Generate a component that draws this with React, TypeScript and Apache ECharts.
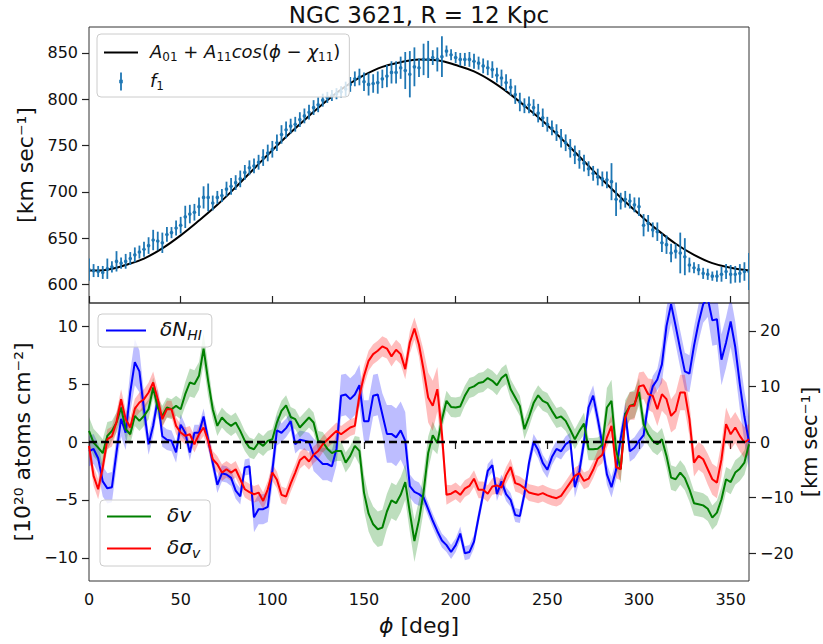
import { useEffect, useRef } from 'react';
import * as echarts from 'echarts';

const FONT = 'DejaVu Sans';
const STEP = 2.5; // azimuthal sampling of the measurements, degrees

// ---- top panel: first harmonic fit (read every 10 deg) ----
const FIT_PHI = [0, 10, 20, 30, 40, 50, 60, 70, 80, 90, 100, 110, 120, 130, 140, 150, 160, 170, 180,
  190, 200, 210, 220, 230, 240, 250, 260, 270, 280, 290, 300, 310, 320, 330, 340, 350, 360];
const FIT_VALUES = [615, 616, 621, 628, 639, 653, 669, 686, 705, 725, 745, 764, 782, 799, 814, 826, 835, 840, 843,
  842, 837, 830, 819, 805, 789, 772, 753, 733, 713, 694, 676, 659, 644, 632, 623, 618, 615];

// ---- top panel: f1 measurements (every 2.5 deg) ----
const F1_VALUES = [
  616, 615, 614, 613, 617, 619, 625, 623, 625, 628,
  632, 635, 638, 642, 648, 647, 645, 654, 656, 661,
  664, 673, 676, 678, 684, 694, 694, 688, 694, 696,
  703, 706, 710, 714, 721, 726, 728, 732, 737, 742,
  746, 753, 762, 767, 771, 773, 778, 782, 786, 791,
  794, 799, 802, 804, 806, 808, 811, 816, 822, 824,
  819, 816, 817, 818, 822, 825, 829, 829, 834, 831,
  827, 835, 834, 843, 843, 845, 843, 846, 852, 848,
  845, 843, 843, 843, 841, 839, 836, 834, 832, 826,
  823, 818, 813, 805, 797, 793, 794, 791, 785, 780,
  773, 769, 764, 758, 753, 747, 740, 735, 731, 725,
  720, 716, 714, 713, 711, 692, 690, 692, 690, 686,
  684, 664, 666, 659, 657, 645, 643, 634, 636, 634,
  630, 621, 618, 616, 612, 611, 609, 609, 611, 614,
  611, 611, 612, 614, 614,
];
const F1_ERRORS = [
  12, 7, 6, 7, 11, 6, 11, 6, 8, 7,
  8, 7, 8, 9, 11, 10, 11, 8, 6, 8,
  9, 12, 10, 9, 10, 12, 15, 8, 7, 7,
  8, 9, 8, 9, 8, 8, 8, 8, 9, 9,
  9, 9, 10, 9, 8, 8, 8, 8, 8, 8,
  8, 7, 6, 6, 6, 6, 8, 8, 8, 9,
  10, 12, 10, 12, 10, 12, 12, 12, 12, 20,
  25, 21, 10, 17, 20, 8, 13, 22, 6, 6,
  6, 7, 7, 8, 8, 7, 8, 8, 9, 8,
  9, 9, 9, 10, 10, 8, 9, 9, 10, 10,
  8, 8, 9, 10, 9, 10, 10, 10, 9, 8,
  8, 9, 8, 9, 20, 18, 9, 9, 8, 8,
  10, 12, 9, 8, 10, 10, 10, 10, 8, 22,
  20, 8, 6, 6, 6, 6, 5, 6, 8, 8,
  10, 9, 10, 10, 20,
];

// ---- bottom panel: delta N_HI (left axis, 10^20 atoms cm^-2) ----
const NHI_VALUES = [
  -0.8, -0.6, -1.4, -3.4, -4.0, -3.9, -0.9, 2.0, 0.8, 4.3,
  6.9, 6.1, 2.8, -0.2, 1.4, 3.7, 0.5, 0.2, 0.1, -0.9,
  1.5, 0.8, -0.9, 0.8, 0.8, 2.2, 0.2, -1.8, -3.7, -2.7,
  -2.8, -3.1, -4.2, -4.7, -2.2, -2.1, -6.5, -5.8, -5.8, -5.6,
  -2.5, 1.0, 0.8, 1.2, 1.8, -0.2, 0.2, 0.1, 0.0, -1.1,
  -1.5, -1.9, -1.9, -2.1, -0.6, 4.0, 4.1, 3.7, 4.1, 4.9,
  1.8, 1.8, 4.0, 4.1, 2.4, 0.7, 0.7, 0.4, 1.0, 0.1,
  -3.8, -4.3, -4.5, -4.8, -5.8, -6.8, -7.7, -8.5, -8.9, -9.5,
  -8.9, -7.9, -9.6, -9.5, -8.6, -6.5, -4.5, -2.5, -2.0, -4.5,
  -3.4, -4.5, -5.0, -6.3, -6.4, -4.5, -1.8, 0.0, -0.7, -1.8,
  -2.4, -1.3, -0.6, -0.8, -0.2, 0.1, -3.9, -2.5, 0.0, 3.0,
  4.0, 2.0, -0.2, -2.8, -3.9, -2.4, 0.3, 2.5, -0.8, -0.5,
  0.1, 0.6, 3.3, 4.8, 5.4, 6.7, 10.0, 11.9, 10.0, 8.0,
  6.1, 5.9, 8.3, 10.3, 11.9, 12.4, 10.5, 10.6, 7.1, 8.6,
  10.4, 8.2, 5.0, 2.2, 0.0,
];
const NHI_ERRORS = [
  1.3, 1.3, 1.3, 1.3, 1.3, 1.3, 1.3, 1.5, 1.5, 1.8,
  2.0, 1.8, 1.4, 0.9, 0.9, 0.9, 0.9, 0.9, 0.9, 0.9,
  0.9, 0.7, 0.7, 0.7, 0.7, 0.7, 0.7, 0.7, 0.7, 0.7,
  0.7, 0.7, 0.7, 0.7, 0.7, 0.7, 1.3, 1.3, 1.3, 1.3,
  1.3, 1.3, 0.8, 0.8, 0.8, 0.8, 0.8, 0.8, 0.8, 1.4,
  1.4, 1.4, 1.4, 1.4, 1.4, 1.8, 1.8, 1.8, 1.8, 1.8,
  1.8, 1.8, 1.8, 1.8, 1.8, 2.5, 2.5, 2.5, 2.5, 2.5,
  1.0, 1.0, 1.0, 0.6, 0.6, 0.6, 0.6, 0.6, 0.6, 0.6,
  0.6, 0.6, 0.6, 0.6, 0.6, 0.6, 0.6, 0.6, 0.6, 0.6,
  0.6, 0.6, 0.6, 0.6, 0.6, 0.6, 0.7, 0.7, 0.7, 0.7,
  0.7, 0.7, 0.7, 0.7, 0.7, 0.7, 0.9, 0.9, 0.9, 0.9,
  0.9, 0.9, 0.9, 0.9, 0.9, 0.9, 0.9, 0.9, 0.9, 0.9,
  0.9, 0.9, 0.9, 0.9, 0.9, 1.6, 1.6, 1.6, 1.6, 1.6,
  1.6, 1.6, 1.6, 1.6, 1.6, 1.6, 2.2, 2.2, 2.2, 2.2,
  2.2, 2.2, 2.2, 2.2, 2.2,
];

// ---- bottom panel: delta v (right axis, km/s) ----
const DV_VALUES = [
  2.0, -0.1, -1.0, -2.0, 1.1, 2.0, 3.5, 6.2, 2.3, 1.4,
  4.7, 3.8, 4.7, 5.9, 9.8, 6.2, 4.7, 6.2, 5.9, 6.5,
  5.9, 8.6, 10.7, 10.4, 11.9, 16.8, 11.0, 5.9, 2.9, 4.4,
  3.5, 2.9, 3.5, 2.0, 0.2, -1.0, -1.3, -0.1, -0.7, 0.2,
  0.5, 3.5, 5.6, 6.6, 4.5, 4.1, 2.6, 3.5, 4.4, 3.5,
  0.2, 0.0, -1.2, -2.0, -1.6, -1.6, -3.7, -2.5, -0.7, -1.6,
  -9.1, -12.9, -14.8, -15.7, -15.4, -12.5, -10.5, -11.0, -9.5, -7.2,
  -12.7, -17.8, -14.0, -9.0, -2.0, 1.2, -0.2, 4.0, 7.4, 6.3,
  6.2, 6.4, 8.3, 9.7, 10.0, 10.6, 10.8, 11.5, 11.0, 10.2,
  11.5, 12.2, 9.5, 8.0, 6.5, 2.3, 4.5, 7.0, 8.4, 7.4,
  7.0, 5.6, 4.3, 4.6, 3.8, 2.2, 0.5, 2.0, 3.3, -1.3,
  -1.3, -1.2, -0.5, 6.2, 7.4, -1.5, -4.9, 5.0, 6.5, 6.8,
  9.0, 3.2, 1.4, 0.2, -0.4, 0.5, -2.5, -6.4, -6.7, -5.5,
  -6.5, -8.5, -11.0, -11.2, -11.4, -12.0, -13.6, -12.7, -10.3, -6.7,
  -7.2, -5.5, -4.8, -3.7, -0.4,
];
const DV_ERRORS = [
  2.5, 2.5, 2.5, 2.5, 2.5, 1.8, 1.8, 1.8, 1.8, 1.8,
  1.8, 1.8, 1.8, 1.8, 1.8, 1.8, 1.8, 1.8, 1.8, 1.8,
  1.8, 2.2, 2.5, 2.5, 2.5, 2.8, 2.8, 1.8, 1.8, 1.8,
  1.8, 1.8, 1.8, 1.8, 1.8, 1.8, 1.8, 1.8, 1.8, 1.8,
  1.8, 1.8, 1.8, 1.8, 1.8, 1.8, 1.8, 1.8, 1.8, 1.8,
  1.8, 1.8, 1.8, 1.8, 1.8, 1.8, 1.8, 1.8, 1.8, 2.5,
  3.2, 3.2, 3.2, 3.2, 3.2, 3.2, 3.2, 3.2, 3.2, 3.2,
  3.5, 3.8, 3.5, 3.5, 3.0, 2.5, 2.0, 1.8, 1.8, 1.8,
  1.8, 1.8, 1.8, 1.8, 1.8, 1.8, 1.8, 1.8, 1.8, 1.8,
  1.8, 1.8, 1.8, 1.8, 1.8, 1.8, 1.8, 1.8, 1.8, 1.8,
  1.8, 1.8, 1.8, 1.8, 1.8, 1.8, 1.8, 1.8, 2.0, 2.0,
  2.0, 2.0, 2.0, 3.5, 3.8, 3.0, 2.5, 2.5, 2.5, 2.5,
  2.5, 2.2, 2.0, 2.0, 2.0, 2.0, 2.2, 2.2, 2.2, 2.2,
  2.2, 2.2, 2.2, 2.2, 2.2, 2.2, 2.2, 2.2, 2.2, 2.2,
  2.2, 2.2, 2.2, 2.2, 2.5,
];

// ---- bottom panel: delta sigma_v (right axis, km/s) ----
const DSIG_VALUES = [
  -0.7, -6.1, -8.5, -4.6, 0.5, 1.0, 3.6, 7.7, 4.1, 2.6,
  6.0, 7.1, 7.7, 8.9, 10.7, 7.7, 4.1, 5.9, 5.9, 2.9,
  1.7, 1.1, 1.4, -0.4, 1.4, 2.6, 0.2, -3.1, -4.0, -5.5,
  -4.9, -5.5, -4.9, -6.7, -8.5, -9.0, -9.4, -9.1, -10.6, -8.5,
  -5.5, -6.8, -9.5, -9.8, -7.5, -5.5, -3.3, -2.6, -3.5, -2.3,
  -1.6, -0.4, 0.4, 1.2, 2.0, 1.4, 2.0, 2.6, 2.9, 8.3,
  11.9, 14.6, 15.8, 16.4, 17.2, 16.8, 15.4, 16.6, 15.8, 13.1,
  17.9, 20.4, 17.5, 13.0, 8.0, 6.5, 9.5, 1.5, -9.5, -9.3,
  -8.8, -9.5, -8.4, -7.9, -6.6, -8.6, -8.6, -9.3, -8.0, -7.8,
  -8.2, -6.0, -4.5, -7.4, -7.7, -8.3, -9.1, -9.3, -9.5, -9.2,
  -9.6, -9.9, -10.1, -9.7, -8.5, -7.3, -6.1, -5.6, -7.0, -6.6,
  -5.0, -3.0, -2.3, 0.8, 2.9, -4.5, -4.9, 4.4, 6.5, 6.5,
  10.0, 10.2, 8.6, 8.3, 5.9, 8.6, 7.7, 4.7, 5.6, 8.9,
  8.9, 4.1, -3.7, -2.5, -3.1, -4.9, -6.7, -7.3, -3.1, 3.2,
  1.4, 2.6, 1.1, -0.1, 0.5,
];
const DSIG_ERRORS = [
  1.8, 1.8, 1.8, 1.8, 1.8, 1.8, 1.8, 1.8, 1.8, 1.8,
  1.8, 1.8, 1.8, 1.8, 2.0, 1.8, 1.5, 1.5, 1.5, 1.5,
  1.5, 1.5, 1.5, 1.5, 1.5, 1.5, 1.5, 1.5, 1.5, 1.5,
  1.5, 1.5, 1.5, 1.5, 1.5, 1.5, 1.5, 1.5, 1.5, 1.5,
  1.5, 1.5, 1.5, 1.5, 1.5, 1.5, 1.5, 1.5, 1.5, 1.5,
  1.5, 1.5, 1.5, 1.5, 1.5, 1.5, 1.5, 1.5, 1.5, 1.8,
  1.8, 1.8, 1.8, 1.8, 1.8, 1.8, 1.8, 1.8, 1.8, 1.8,
  2.0, 2.0, 2.2, 3.5, 4.5, 4.5, 4.0, 3.0, 1.8, 1.5,
  1.5, 1.5, 1.5, 1.5, 1.5, 1.5, 1.5, 1.5, 1.5, 1.5,
  1.5, 1.5, 1.5, 1.5, 1.5, 1.5, 1.5, 1.5, 1.5, 1.5,
  1.5, 1.5, 1.5, 1.5, 1.5, 1.5, 1.5, 1.5, 1.5, 1.5,
  1.5, 1.5, 1.5, 1.8, 2.0, 2.0, 2.0, 2.5, 2.5, 2.5,
  2.5, 2.5, 2.8, 3.0, 3.0, 3.0, 3.0, 3.0, 3.2, 3.2,
  3.2, 3.0, 2.5, 2.5, 2.5, 2.8, 2.8, 2.8, 3.0, 3.0,
  2.8, 2.8, 2.8, 2.8, 2.8,
];

// ---- tick values ----
const X_TICKS = [0, 50, 100, 150, 200, 250, 300, 350];
const TOP_Y_TICKS = [600, 650, 700, 750, 800, 850];
const LEFT_Y_TICKS = [-10, -5, 0, 5, 10];
const RIGHT_Y_TICKS = [-20, -10, 0, 10, 20];

const C_F1 = '#1f77b4';
const C_NHI = '#0000ff';
const C_DV = '#008000';
const C_DSIG = '#ff0000';

const PHI = F1_VALUES.map((_, i) => i * STEP);

const LEGEND_LABELS: Record<string, string> = {
  fit: '{m|A}{s|01}{n| + }{m|A}{s|11}{m|cos}{n|(}{m|ϕ}{n| − }{m|χ}{s|11}{n|)}',
  f1: '{m|f}{s|1}',
  NHI: '{m|δN}{si|HI}',
  dv: '{m|δv}',
  dsig: '{m|δσ}{si|v}',
};

const ERRBAR_ICON = 'path://M0,0M34,18M16.1,0H17.9V18H16.1ZM15.2,7.2H18.8V10.8H15.2Z';
const LINE_ICON_34 = 'path://M0,0M34,18M0,8H34V10H0Z';
const LINE_ICON_40 = 'path://M0,0M40,14M0,6H40V8H0Z';
const LINE_ICON_44 = 'path://M0,0M44,14M0,6H44V8H0Z';

const minus = (v: number) => (v < 0 ? '\u2212' + Math.abs(v) : String(v));

function richFor(size: number) {
  const sub = Math.round(size * 0.68);
  return {
    m: { fontFamily: FONT, fontStyle: 'italic', fontSize: size, color: '#111', verticalAlign: 'bottom', padding: [0, 0, 3, 0] },
    n: { fontFamily: FONT, fontSize: size, color: '#111', verticalAlign: 'bottom', padding: [0, 0, 3, 0] },
    s: { fontFamily: FONT, fontSize: sub, color: '#111', verticalAlign: 'bottom' },
    si: { fontFamily: FONT, fontStyle: 'italic', fontSize: sub, color: '#111', verticalAlign: 'bottom' },
  };
}

function legendBase() {
  return {
    orient: 'vertical',
    selectedMode: false,
    backgroundColor: 'rgba(255,255,255,0.8)',
    borderColor: '#cccccc',
    borderWidth: 1,
    borderRadius: 4,
    formatter: (n: string) => LEGEND_LABELS[n],
    z: 10,
  };
}

function band(name: string, vals: number[], errs: number[], yAxisIndex: number, fill: string) {
  return {
    type: 'custom', name, xAxisIndex: 1, yAxisIndex, clip: true, silent: true, z: 1,
    data: vals.map((v, i) => [PHI[i], v - errs[i], v + errs[i]]),
    encode: { x: 0, y: [1, 2] },
    renderItem: (params: any, api: any) => {
      if (params.dataIndexInside !== 0) return null;
      const n = params.dataInsideLength;
      const pts: number[][] = [];
      for (let j = 0; j < n; j++) pts.push(api.coord([api.value(0, j), api.value(1, j)]));
      for (let j = n - 1; j >= 0; j--) pts.push(api.coord([api.value(0, j), api.value(2, j)]));
      return { type: 'polygon', shape: { points: pts }, style: { fill, stroke: 'none' } };
    },
  };
}

const tickStyle = { color: '#222', width: 1.2 };
const labelStyle = { fontFamily: FONT, fontSize: 16, color: '#111' };
const nameStyle = { fontFamily: FONT, fontSize: 22, color: '#111' };

function buildOption() {
  return {
    animation: false,
    backgroundColor: '#ffffff',
    textStyle: { fontFamily: FONT },
    title: {
      text: 'NGC 3621, R = 12 Kpc', left: 419, top: 3, textAlign: 'center', padding: 0,
      textStyle: { fontFamily: FONT, fontSize: 23, fontWeight: 'normal', color: '#111' },
    },
    graphic: [
      {
        type: 'text', x: 810, y: 442, rotation: Math.PI / 2, silent: true,
        style: { text: '[km sec⁻¹]', fontFamily: FONT, fontSize: 21, fill: '#111', textAlign: 'center', textVerticalAlign: 'middle' },
      },
    ],
    grid: [
      { left: 89, width: 660, top: 27, height: 276, show: true, borderColor: '#333', borderWidth: 1, backgroundColor: 'transparent', outerBoundsMode: 'none' },
      { left: 89, width: 660, top: 303, height: 278, show: true, borderColor: '#333', borderWidth: 1, backgroundColor: 'transparent', outerBoundsMode: 'none' },
    ],
    legend: [
      {
        ...legendBase(), left: 97, top: 34, itemWidth: 34, itemHeight: 18, itemGap: 8,
        padding: [8, 9, 5, 7],
        data: [{ name: 'fit', icon: LINE_ICON_34 }, { name: 'f1', icon: ERRBAR_ICON }],
        textStyle: { fontFamily: FONT, fontSize: 18, color: '#111', padding: [0, 0, 0, 7], rich: richFor(18) },
      },
      {
        ...legendBase(), left: 98, top: 314, itemWidth: 40, itemHeight: 14, itemGap: 6,
        padding: [5, 10, 5, 8],
        data: [{ name: 'NHI', icon: LINE_ICON_40 }],
        textStyle: { fontFamily: FONT, fontSize: 20, color: '#111', padding: [0, 0, 0, 9], rich: richFor(20) },
      },
      {
        ...legendBase(), left: 100, top: 500, itemWidth: 44, itemHeight: 14, itemGap: 12,
        padding: [5, 10, 6, 7],
        data: [{ name: 'dv', icon: LINE_ICON_44 }, { name: 'dsig', icon: LINE_ICON_44 }],
        textStyle: { fontFamily: FONT, fontSize: 20, color: '#111', padding: [0, 0, 0, 11], rich: richFor(20) },
      },
    ],
    xAxis: [
      {
        type: 'value', gridIndex: 0, min: 0, max: 360,
        axisLine: { show: false },
        axisTick: { show: true, inside: true, length: 7, lineStyle: tickStyle, customValues: X_TICKS },
        axisLabel: { show: false },
        splitLine: { show: false },
      },
      {
        type: 'value', gridIndex: 1, min: 0, max: 360,
        axisLine: { show: false },
        axisTick: { show: true, inside: false, length: 7, lineStyle: tickStyle, customValues: X_TICKS },
        axisLabel: { ...labelStyle, margin: 10, customValues: X_TICKS },
        splitLine: { show: false },
        name: '{i|ϕ} [deg]', nameLocation: 'middle', nameGap: 33,
        nameTextStyle: { ...nameStyle, rich: { i: { fontFamily: FONT, fontSize: 22, fontStyle: 'italic', color: '#111' } } },
      },
    ],
    yAxis: [
      {
        type: 'value', gridIndex: 0, min: 580, max: 878,
        axisLine: { show: false },
        axisTick: { show: true, inside: false, length: 7, lineStyle: tickStyle, customValues: TOP_Y_TICKS },
        axisLabel: { ...labelStyle, margin: 11, customValues: TOP_Y_TICKS },
        splitLine: { show: false },
        name: '[km sec⁻¹]', nameLocation: 'middle', nameGap: 44, nameRotate: 90,
        nameTextStyle: nameStyle,
      },
      {
        type: 'value', gridIndex: 1, min: -12, max: 12, position: 'left',
        axisLine: { show: false },
        axisTick: { show: true, inside: false, length: 7, lineStyle: tickStyle, customValues: LEFT_Y_TICKS },
        axisLabel: { ...labelStyle, margin: 11, customValues: LEFT_Y_TICKS, formatter: minus },
        splitLine: { show: false },
        name: '[10²⁰ atoms cm⁻²]', nameLocation: 'middle', nameGap: 52, nameRotate: 90,
        nameTextStyle: nameStyle,
      },
      {
        type: 'value', gridIndex: 1, min: -25, max: 25, position: 'right',
        axisLine: { show: false },
        axisTick: { show: true, inside: false, length: 7, lineStyle: tickStyle, customValues: RIGHT_Y_TICKS },
        axisLabel: { ...labelStyle, margin: 11, customValues: RIGHT_Y_TICKS, formatter: minus },
        splitLine: { show: false },
      },
    ],
    series: [
      {
        type: 'line', name: 'fit', xAxisIndex: 0, yAxisIndex: 0,
        data: FIT_PHI.map((p, i) => [p, FIT_VALUES[i]]),
        smooth: 0.4, symbol: 'none',
        lineStyle: { color: '#000', width: 2 }, itemStyle: { color: '#000' }, z: 2,
      },
      {
        type: 'custom', name: 'f1', xAxisIndex: 0, yAxisIndex: 0, clip: true,
        data: F1_VALUES.map((v, i) => [PHI[i], v, F1_ERRORS[i]]),
        encode: { x: 0, y: 1 },
        itemStyle: { color: C_F1 },
        z: 3,
        renderItem: (_params: any, api: any) => {
          const x = api.value(0);
          const y = api.value(1);
          const e = api.value(2);
          const top = api.coord([x, y + e]);
          const bot = api.coord([x, y - e]);
          const mid = api.coord([x, y]);
          return {
            type: 'group',
            children: [
              { type: 'line', shape: { x1: top[0], y1: top[1], x2: bot[0], y2: bot[1] }, style: { stroke: C_F1, lineWidth: 1.8 } },
              { type: 'circle', shape: { cx: mid[0], cy: mid[1], r: 1.8 }, style: { fill: C_F1 } },
            ],
          };
        },
      },
      band('nhiBand', NHI_VALUES, NHI_ERRORS, 1, 'rgba(0,0,255,0.26)'),
      band('dvBand', DV_VALUES, DV_ERRORS, 2, 'rgba(0,128,0,0.26)'),
      band('dsigBand', DSIG_VALUES, DSIG_ERRORS, 2, 'rgba(255,0,0,0.26)'),
      {
        type: 'line', name: 'NHI', xAxisIndex: 1, yAxisIndex: 1,
        data: NHI_VALUES.map((v, i) => [PHI[i], v]), symbol: 'none',
        lineStyle: { color: C_NHI, width: 2 }, itemStyle: { color: C_NHI }, z: 3,
        markLine: {
          silent: true, symbol: ['none', 'none'], label: { show: false }, animation: false,
          lineStyle: { color: '#000', type: [8, 4], width: 2.4 },
          data: [{ yAxis: 0 }],
          z: 6,
        },
      },
      {
        type: 'line', name: 'dv', xAxisIndex: 1, yAxisIndex: 2,
        data: DV_VALUES.map((v, i) => [PHI[i], v]), symbol: 'none',
        lineStyle: { color: C_DV, width: 2 }, itemStyle: { color: C_DV }, z: 3,
      },
      {
        type: 'line', name: 'dsig', xAxisIndex: 1, yAxisIndex: 2,
        data: DSIG_VALUES.map((v, i) => [PHI[i], v]), symbol: 'none',
        lineStyle: { color: C_DSIG, width: 2 }, itemStyle: { color: C_DSIG }, z: 3,
      },
    ],
  };
}

export default function App() {
  const ref = useRef<HTMLDivElement>(null);
  useEffect(() => {
    const chart = echarts.init(ref.current!, null, { renderer: 'svg' });
    chart.setOption(buildOption() as any);
    return () => chart.dispose();
  }, []);
  return (
    <div
      ref={ref}
      style={{ position: 'fixed', left: 0, top: 0, width: 823, height: 644, background: '#fff' }}
    />
  );
}
